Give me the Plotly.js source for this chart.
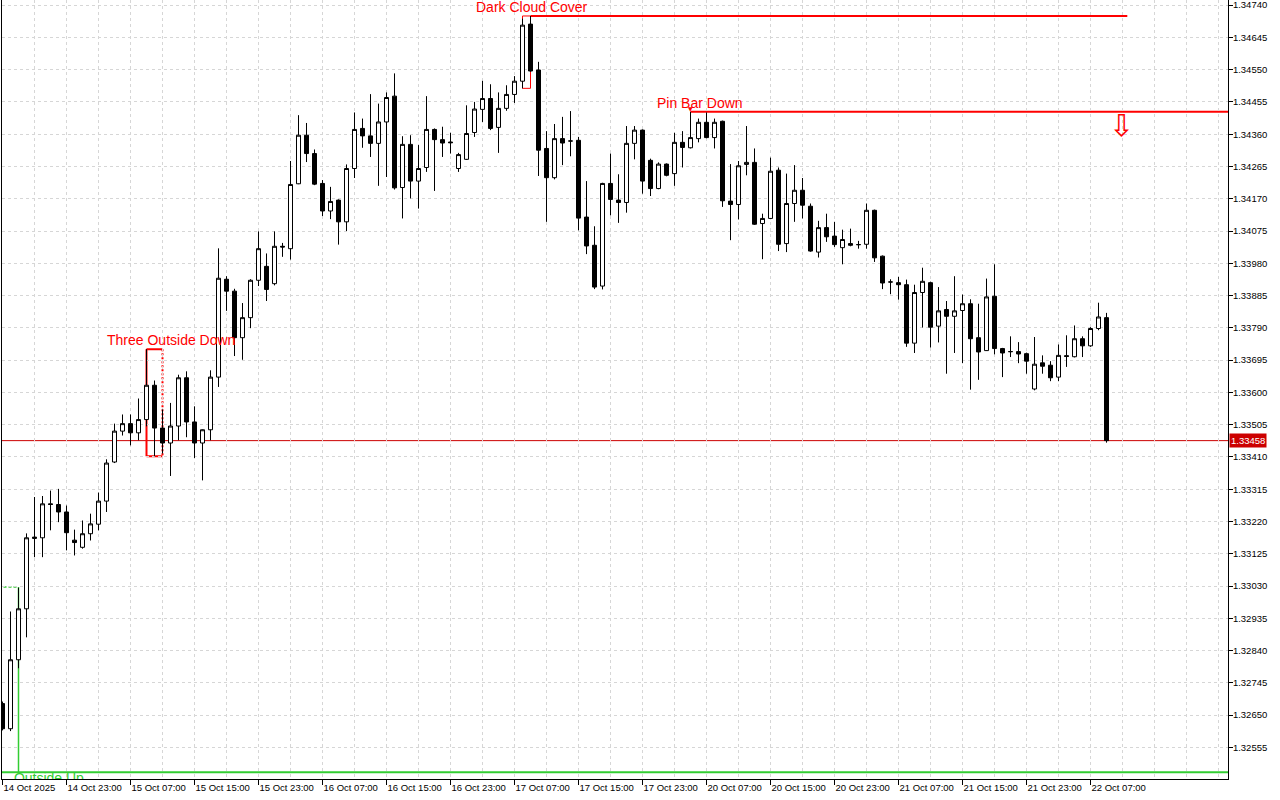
<!DOCTYPE html>
<html><head><meta charset="utf-8">
<script src="https://cdn.plot.ly/plotly-3.0.1.min.js"></script>
<style>html,body{margin:0;padding:0;background:#fff;overflow:hidden}#chart{width:1280px;height:800px}</style>
</head><body><div id="chart"></div>
<script>
// ---- data (H1 candles) ----
const barOpen = [1.32684,1.32610,1.32813,1.32963,1.33170,1.33172,1.33272,1.33270,1.33248,1.33165,
1.33144,1.33184,1.33212,1.33280,1.33395,1.33486,1.33508,1.33481,1.33520,1.33621,
1.33495,1.33451,1.33501,1.33643,1.33513,1.33451,1.33490,1.33645,1.33933,1.33898,
1.33761,1.33820,1.33930,1.33971,1.33920,1.34030,1.34023,1.34214,1.34357,1.34303,
1.34215,1.34134,1.34166,1.34102,1.34259,1.34377,1.34355,1.34333,1.34396,1.34472,
1.34203,1.34330,1.34222,1.34262,1.34374,1.34344,1.34337,1.34259,1.34286,1.34365,
1.34433,1.34465,1.34380,1.34436,1.34477,1.34516,1.34684,1.34549,1.34318,1.34232,
1.34347,1.34340,1.34342,1.34116,1.34033,1.33913,1.34215,1.34166,1.34159,1.34333,
1.34372,1.34283,1.34200,1.34272,1.34244,1.34336,1.34320,1.34347,1.34395,1.34350,
1.34398,1.34163,1.34153,1.34271,1.34277,1.34097,1.34112,1.34254,1.34038,1.34156,
1.34195,1.34148,1.34013,1.34085,1.34060,1.34026,1.34038,1.34035,1.34036,1.34136,
1.34001,1.33925,1.33923,1.33917,1.33745,1.33894,1.33923,1.33795,1.33844,1.33824,
1.33841,1.33861,1.33761,1.33723,1.33883,1.33729,1.33720,1.33720,1.33714,1.33610,
1.33687,1.33680,1.33645,1.33708,1.33705,1.33758,1.33737,1.33788,1.33820];
const barHigh = [1.32690,1.32955,1.33025,1.33185,1.33292,1.33295,1.33311,1.33316,1.33267,1.33196,
1.33223,1.33243,1.33305,1.33403,1.33508,1.33535,1.33535,1.33582,1.33727,1.33635,
1.33550,1.33569,1.33652,1.33662,1.33559,1.33491,1.33665,1.34024,1.33942,1.33905,
1.33863,1.33933,1.34074,1.34009,1.34074,1.34040,1.34281,1.34416,1.34393,1.34315,
1.34225,1.34205,1.34168,1.34271,1.34424,1.34406,1.34478,1.34450,1.34483,1.34539,
1.34354,1.34357,1.34328,1.34472,1.34377,1.34382,1.34364,1.34305,1.34445,1.34455,
1.34517,1.34507,1.34483,1.34504,1.34531,1.34700,1.34708,1.34573,1.34369,1.34390,
1.34411,1.34428,1.34352,1.34222,1.34089,1.34217,1.34303,1.34242,1.34384,1.34384,
1.34374,1.34288,1.34277,1.34274,1.34364,1.34369,1.34426,1.34406,1.34424,1.34406,
1.34400,1.34272,1.34281,1.34384,1.34318,1.34126,1.34291,1.34262,1.34244,1.34269,
1.34231,1.34156,1.34105,1.34126,1.34102,1.34079,1.34082,1.34046,1.34156,1.34138,
1.34003,1.33933,1.33940,1.33932,1.33917,1.33967,1.33926,1.33910,1.33869,1.33942,
1.33888,1.33874,1.33861,1.33935,1.33977,1.33731,1.33765,1.33748,1.33717,1.33763,
1.33709,1.33692,1.33741,1.33768,1.33797,1.33765,1.33792,1.33864,1.33834];
const barLow = [1.32605,1.32603,1.32788,1.32879,1.33115,1.33115,1.33194,1.33218,1.33135,1.33120,
1.33140,1.33164,1.33194,1.33248,1.33392,1.33473,1.33444,1.33459,1.33500,1.33412,
1.33420,1.33354,1.33459,1.33468,1.33407,1.33341,1.33459,1.33616,1.33840,1.33707,
1.33696,1.33789,1.33913,1.33869,1.33915,1.33999,1.33991,1.34213,1.34278,1.34210,
1.34119,1.34110,1.34035,1.34075,1.34231,1.34320,1.34293,1.34208,1.34234,1.34197,
1.34112,1.34171,1.34141,1.34249,1.34193,1.34293,1.34303,1.34249,1.34284,1.34352,
1.34396,1.34372,1.34305,1.34429,1.34452,1.34495,1.34544,1.34237,1.34102,1.34227,
1.34269,1.34295,1.34077,1.34007,1.33904,1.33903,1.34121,1.34099,1.34129,1.34286,
1.34185,1.34178,1.34198,1.34236,1.34208,1.34262,1.34318,1.34336,1.34348,1.34318,
1.34146,1.34048,1.34109,1.34239,1.34093,1.33992,1.34110,1.34016,1.34013,1.34102,
1.34112,1.34014,1.33997,1.34043,1.34028,1.33977,1.34030,1.34023,1.34023,1.33984,
1.33904,1.33889,1.33873,1.33734,1.33716,1.33791,1.33732,1.33747,1.33655,1.33716,
1.33686,1.33608,1.33637,1.33722,1.33712,1.33645,1.33704,1.33686,1.33655,1.33606,
1.33655,1.33633,1.33633,1.33675,1.33703,1.33704,1.33734,1.33783,1.33452];
const barClose = [1.32610,1.32813,1.32963,1.33172,1.33174,1.33272,1.33270,1.33248,1.33187,1.33158,
1.33184,1.33213,1.33280,1.33392,1.33486,1.33508,1.33481,1.33520,1.33621,1.33495,
1.33451,1.33501,1.33643,1.33513,1.33451,1.33490,1.33645,1.33936,1.33898,1.33761,
1.33820,1.33930,1.34023,1.33903,1.34030,1.34028,1.34212,1.34357,1.34303,1.34213,
1.34134,1.34162,1.34102,1.34259,1.34374,1.34355,1.34333,1.34396,1.34468,1.34202,
1.34330,1.34222,1.34259,1.34374,1.34344,1.34334,1.34335,1.34300,1.34362,1.34434,
1.34465,1.34377,1.34436,1.34477,1.34516,1.34681,1.34546,1.34313,1.34232,1.34347,
1.34334,1.34340,1.34113,1.34031,1.33910,1.34215,1.34168,1.34159,1.34333,1.34372,
1.34222,1.34200,1.34272,1.34239,1.34336,1.34321,1.34350,1.34395,1.34350,1.34395,
1.34164,1.34153,1.34267,1.34277,1.34095,1.34112,1.34251,1.34036,1.34156,1.34195,
1.34151,1.34016,1.34085,1.34058,1.34035,1.34050,1.34033,1.34035,1.34136,1.33996,
1.33922,1.33925,1.33917,1.33745,1.33894,1.33927,1.33792,1.33840,1.33824,1.33840,
1.33861,1.33758,1.33719,1.33881,1.33729,1.33716,1.33720,1.33713,1.33692,1.33683,
1.33677,1.33643,1.33709,1.33706,1.33758,1.33737,1.33788,1.33822,1.33458];

const tickBars = [0,8,16,24,32,40,48,56,64,72,80,88,96,104,112,120,128,136];
const tickLabels = ['14 Oct 2025','14 Oct 23:00','15 Oct 07:00','15 Oct 15:00','15 Oct 23:00',
'16 Oct 07:00','16 Oct 15:00','16 Oct 23:00','17 Oct 07:00','17 Oct 15:00','17 Oct 23:00',
'20 Oct 07:00','20 Oct 15:00','20 Oct 23:00','21 Oct 07:00','21 Oct 15:00','21 Oct 23:00','22 Oct 07:00'];
const priceTicks = [1.32555,1.32650,1.32745,1.32840,1.32935,1.33030,1.33125,1.33220,1.33315,1.33410,
1.33505,1.33600,1.33695,1.33790,1.33885,1.33980,1.34075,1.34170,1.34265,1.34360,1.34455,1.34550,1.34645,1.34740];
const lastPrice = 1.33458;

const patternNames    = ['Outside Up','Three Outside Down','Dark Cloud Cover','Pin Bar Down'];
const patternFirstBar = [-3, 18, 65, 86];
const patternLastBar  = [2, 20, 66, 86];
const patternTop      = [1.33027, 1.33727, 1.34708, 1.34426];
const patternBottom   = [1.32482, 1.33412, 1.34495, 1.34318];
const patternLabelBar = [5.8, 21.1, 66.2, 87.2];
const levelPrice      = [1.32482, null, 1.34708, 1.34426];
const levelStartBar   = [-3, null, 66, 86];
const levelEndBar     = [200, null, 140.6, 200];
const signalBar = 139.9, signalPrice = 1.34385;

// ---- drawing ----
const idx = barOpen.map((_, i) => i);
const RED = '#ff0000', GREEN = '#32cd32', GRID = '#d6d6d6';
const FONT = 'Liberation Sans, Arial, sans-serif';

const traces = [{
  type: 'candlestick', x: idx, open: barOpen, high: barHigh, low: barLow, close: barClose,
  increasing: {line: {color: '#000', width: 1}, fillcolor: '#ffffff'},
  decreasing: {line: {color: '#000', width: 1}, fillcolor: '#000000'},
  whiskerwidth: 0, hoverinfo: 'skip', showlegend: false
}, {
  type: 'scatter', mode: 'text', x: [patternLabelBar[0]], y: [patternBottom[0]],
  text: [patternNames[0]], textposition: 'bottom center', cliponaxis: true,
  textfont: {family: FONT, size: 14, color: GREEN}, hoverinfo: 'skip', showlegend: false
}];

function seg(x0, y0, x1, y1, color, width, dash) {
  return {type: 'line', xref: 'x', yref: 'y', x0, y0, x1, y1, layer: 'below',
          line: {color, width, dash: dash || 'solid'}};
}
const shapes = [];
// Outside Up
shapes.push(seg(patternFirstBar[0], patternTop[0], patternLastBar[0], patternTop[0], GREEN, 1.5, '3px,2px'));
shapes.push(seg(patternLastBar[0], patternTop[0], patternLastBar[0], patternBottom[0], GREEN, 1.5));
// Three Outside Down
shapes.push(seg(patternFirstBar[1], patternTop[1], patternFirstBar[1], patternBottom[1], RED, 2));
shapes.push(seg(patternFirstBar[1], patternTop[1], patternLastBar[1], patternTop[1], RED, 2));
shapes.push(seg(patternFirstBar[1], patternBottom[1], patternLastBar[1], patternBottom[1], RED, 2));
shapes.push(seg(patternLastBar[1], patternTop[1], patternLastBar[1], patternBottom[1], RED, 2, '2px,2px'));
// Dark Cloud Cover
shapes.push(seg(patternFirstBar[2], patternTop[2], patternFirstBar[2], patternBottom[2], RED, 1));
shapes.push(seg(patternFirstBar[2], patternTop[2], patternLastBar[2], patternTop[2], RED, 1));
shapes.push(seg(patternFirstBar[2], patternBottom[2], patternLastBar[2], patternBottom[2], RED, 1));
shapes.push(seg(patternLastBar[2], patternTop[2], patternLastBar[2], patternBottom[2], RED, 1));
// levels
[0, 2, 3].forEach(k => {
  shapes.push(seg(levelStartBar[k], levelPrice[k], levelEndBar[k], levelPrice[k], k === 0 ? GREEN : RED, 2));
});
// last price line
shapes.push({type: 'line', xref: 'paper', yref: 'y', x0: 0, x1: 1, y0: lastPrice, y1: lastPrice,
             layer: 'below', line: {color: '#cc0000', width: 1}});

const annotations = [1, 2, 3].map(k => ({
  x: patternLabelBar[k], y: patternTop[k], xref: 'x', yref: 'y', text: patternNames[k],
  showarrow: false, xanchor: 'center', yanchor: 'bottom', borderpad: 0,
  font: {family: FONT, size: 14, color: RED}
}));
annotations.push({x: patternFirstBar[3], y: patternTop[3], xref: 'x', yref: 'y', text: '▼',
  showarrow: false, yanchor: 'bottom', borderpad: 0, yshift: -1, font: {family: 'DejaVu Sans', size: 6, color: RED}});
annotations.push({x: signalBar, y: signalPrice, xref: 'x', yref: 'y', text: '⇩', showarrow: false,
  xanchor: 'center', yanchor: 'middle', font: {family: 'DejaVu Sans', size: 30, color: RED}});
annotations.push({x: 1, xref: 'paper', xanchor: 'left', xshift: 1, y: lastPrice, yref: 'y', yanchor: 'middle',
  text: lastPrice.toFixed(5), showarrow: false, bgcolor: '#cc0000', borderpad: 1,
  font: {family: FONT, size: 9.5, color: '#ffffff'}});

const layout = {
  width: 1280, height: 800,
  margin: {l: 2, r: 52, t: 0, b: 21, pad: 0},
  paper_bgcolor: '#ffffff', plot_bgcolor: '#ffffff',
  showlegend: false, hovermode: false, dragmode: false,
  boxgap: 0.5, boxgroupgap: 0,
  font: {family: FONT, size: 9.5, color: '#000'},
  xaxis: {
    type: 'linear', range: [-0.0625, 153.1875], rangeslider: {visible: false},
    tickmode: 'array', tickvals: tickBars, ticktext: tickLabels,
    ticks: 'outside', ticklen: 5, tickcolor: '#000', tickwidth: 1,
    ticklabelposition: 'outside right',
    showline: true, linecolor: '#000', linewidth: 1, zeroline: false,
    showgrid: true, gridcolor: GRID, gridwidth: 1, griddash: '3px,3px',
    minor: {tickmode: 'linear', tick0: 0, dtick: 4, showgrid: true, gridcolor: GRID, gridwidth: 1, griddash: '3px,3px', ticks: ''},
    fixedrange: true
  },
  yaxis: {
    side: 'right', range: [1.32462, 1.34755],
    tickmode: 'array', tickvals: priceTicks, tickformat: '.5f',
    ticks: 'outside', ticklen: 4, tickcolor: '#000', ticklabeloverflow: 'allow', ticklabelstandoff: -2,
    showline: true, mirror: true, linecolor: '#000', linewidth: 1, zeroline: false,
    showgrid: true, gridcolor: GRID, gridwidth: 1, griddash: '3px,3px',
    fixedrange: true
  },
  shapes, annotations
};

Plotly.newPlot('chart', traces, layout, {staticPlot: true, displayModeBar: false});
</script></body></html>
